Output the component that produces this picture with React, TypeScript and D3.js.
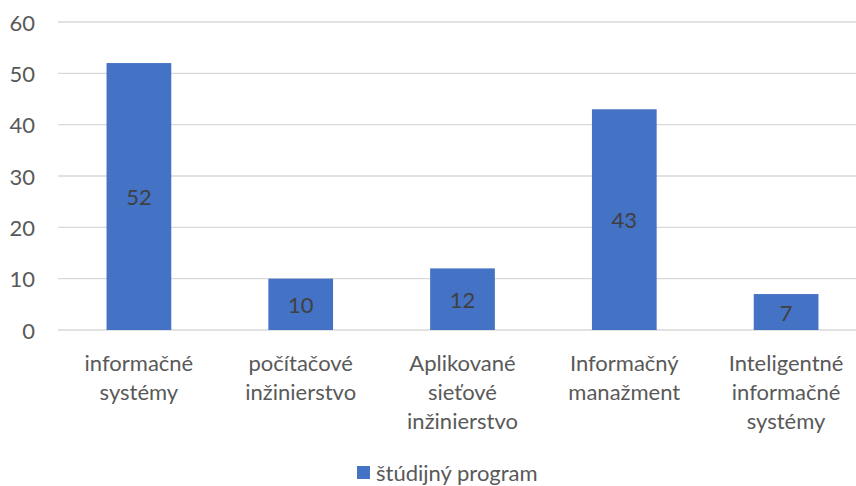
import React from "react";
import * as d3 from "d3";

const categories: string[][] = [
  ["informačné", "systémy"],
  ["počítačové", "inžinierstvo"],
  ["Aplikované", "sieťové", "inžinierstvo"],
  ["Informačný", "manažment"],
  ["Inteligentné", "informačné", "systémy"],
];
const values: number[] = [52, 10, 12, 43, 7];
const yTicks: number[] = [0, 10, 20, 30, 40, 50, 60];
const seriesName = "štúdijný program";

const W = 856;
const H = 486;
const FONT = "Lato, 'Liberation Sans', sans-serif";

export default function App() {
  const left = 58;
  const right = 867;
  const top = 22;
  const bottom = 330;
  const x = d3
    .scaleBand<number>()
    .domain(values.map((_, i) => i))
    .range([left, right])
    .paddingInner(0.6)
    .paddingOuter(0.3);
  const y = d3.scaleLinear().domain([0, 60]).range([bottom, top]);

  return (
    <svg
      width={W}
      height={H}
      style={{ position: "absolute", left: 0, top: 0, background: "#fff" }}
      fontFamily={FONT}
    >
      {yTicks.map((t) => (
        <g key={t}>
          <line
            x1={left}
            x2={W}
            y1={y(t)}
            y2={y(t)}
            stroke="#d9d9d9"
            strokeWidth={1.3}
          />
          <text
            x={35}
            y={y(t)}
            textAnchor="end"
            dominantBaseline="central"
            fontSize={22}
            fill="#595959"
          >
            {t}
          </text>
        </g>
      ))}
      {values.map((v, i) => {
        const bx = x(i)!;
        const bw = x.bandwidth();
        return (
          <g key={i}>
            <rect x={bx} y={y(v)} width={bw} height={y(0) - y(v)} fill="#4472C4" />
            <text
              x={bx + bw / 2}
              y={(y(v) + y(0)) / 2}
              textAnchor="middle"
              dominantBaseline="central"
              fontSize={22}
              fill="#404040"
            >
              {v}
            </text>
            {categories[i].map((line, j) => (
              <text
                key={j}
                x={bx + bw / 2}
                y={362 + j * 29}
                textAnchor="middle"
                dominantBaseline="central"
                fontSize={22}
                fill="#595959"
              >
                {line}
              </text>
            ))}
          </g>
        );
      })}
      <rect x={357} y={466} width={13} height={13} fill="#4472C4" />
      <text x={376} y={472} dominantBaseline="central" fontSize={22} fill="#595959">
        {seriesName}
      </text>
    </svg>
  );
}
